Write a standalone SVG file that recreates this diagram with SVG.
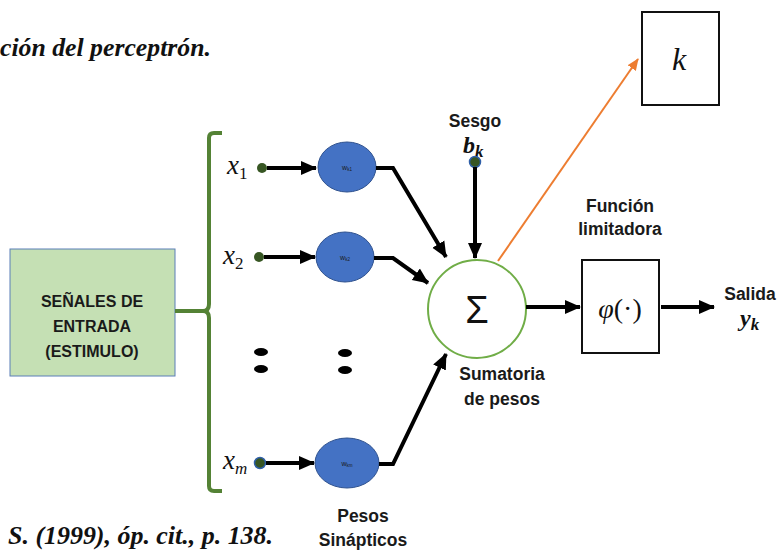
<svg xmlns="http://www.w3.org/2000/svg" width="778" height="550" viewBox="0 0 778 550">
<defs>
<marker id="ah" markerUnits="userSpaceOnUse" markerWidth="16" markerHeight="16" viewBox="0 0 16 16" refX="15" refY="8" orient="auto">
<path d="M0,1 L16,8 L0,15 Z" fill="#000"/>
</marker>
<marker id="aho" markerUnits="userSpaceOnUse" markerWidth="12" markerHeight="12" viewBox="0 0 12 12" refX="11" refY="6" orient="auto">
<path d="M0,1 L12,6 L0,11 Z" fill="#ed7d31"/>
</marker>
</defs>
<style>
.lbl{font-family:"Liberation Sans",Arial,sans-serif;font-weight:bold;font-size:17.5px;fill:#1a1a1a;text-anchor:middle}
.big{font-size:16px}
.cite{font-family:"Liberation Serif","Times New Roman",serif;font-weight:bold;font-style:italic;font-size:25px;fill:#111}
.math{font-family:"Liberation Serif","Times New Roman",serif;font-style:italic;font-size:27px;fill:#111}
.sub{font-size:17px}
.bm{font-weight:bold;font-size:24px}
.w{fill:#4472c4;stroke:#2f528f;stroke-width:1}
.wt{font-family:"Liberation Sans",Arial,sans-serif;font-size:7px;fill:#1a1a1a;text-anchor:middle}
.dot{fill:#375623}
.dotb{fill:#375623;stroke:#2f5fa8;stroke-width:1.5}
.ar{fill:none;stroke:#000;stroke-width:4;marker-end:url(#ah)}
.box{fill:#fff;stroke:#111;stroke-width:2}
</style>
<rect width="778" height="550" fill="#fff"/>
<text class="cite" x="0" y="56" textLength="211" lengthAdjust="spacingAndGlyphs">ción del perceptrón.</text>
<text class="cite" x="8" y="544" textLength="265" lengthAdjust="spacingAndGlyphs">S. (1999), óp. cit., p. 138.</text>

<g id="entrada">
<rect x="10" y="249" width="165" height="127" fill="#c5e0b4" stroke="#5b7fb8" stroke-width="1"/>
<text class="lbl big" x="92" y="307">SEÑALES DE</text>
<text class="lbl big" x="92" y="332">ENTRADA</text>
<text class="lbl big" x="92" y="357">(ESTIMULO)</text>
</g>

<g id="bracket">
<path d="M175,311 L205,311 M222,133 L214,133 Q209,133 209,138 L209,304 Q209,311 203,311 Q209,311 209,318 L209,486 Q209,491 214,491 L222,491" fill="none" stroke="#548235" stroke-width="4"/>
</g>

<g id="x1">
<text class="math" x="227" y="174">x<tspan class="sub" dy="5" style="font-style:normal">1</tspan></text>
<circle class="dot" cx="262" cy="168" r="5"/>
</g>
<g id="x2">
<text class="math" x="223" y="264">x<tspan class="sub" dy="5" style="font-style:normal">2</tspan></text>
<circle class="dot" cx="259" cy="257" r="5"/>
</g>
<g id="xm">
<text class="math" x="223" y="469">x<tspan class="sub" dy="5">m</tspan></text>
<circle class="dotb" cx="260" cy="463" r="5.5"/>
</g>
<g id="dots">
<ellipse cx="261" cy="352" rx="7" ry="4" fill="#000"/>
<ellipse cx="261" cy="369" rx="7" ry="4" fill="#000"/>
<ellipse cx="345" cy="353" rx="7" ry="4" fill="#000"/>
<ellipse cx="345" cy="370" rx="7" ry="4" fill="#000"/>
</g>

<g id="wk1">
<ellipse class="w" cx="347" cy="167" rx="29" ry="25"/>
<text class="wt" x="347" y="170">w<tspan style="font-size:4.5px" dy="1">k1</tspan></text>
</g>
<g id="wk2">
<ellipse class="w" cx="345" cy="257" rx="29" ry="25"/>
<text class="wt" x="345" y="260">w<tspan style="font-size:4.5px" dy="1">k2</tspan></text>
</g>
<g id="wkm">
<ellipse class="w" cx="347" cy="463" rx="32" ry="25"/>
<text class="wt" x="347" y="466">w<tspan style="font-size:4.5px" dy="1">km</tspan></text>
</g>

<g id="sesgo">
<text class="lbl" x="475" y="127">Sesgo</text>
<text class="math bm" x="463" y="153">b<tspan class="sub" dy="4">k</tspan></text>
<circle class="dotb" cx="475" cy="162" r="5.5"/>
</g>

<g id="suma">
<circle cx="477" cy="309" r="49" fill="#fff" stroke="#70ad47" stroke-width="2"/>
<text x="477" y="323" style="font-family:'Liberation Sans',Arial,sans-serif;font-size:38px" text-anchor="middle" fill="#111">Σ</text>
<text class="lbl" x="502" y="380">Sumatoria</text>
<text class="lbl" x="502" y="405">de pesos</text>
</g>

<g id="k">
<rect class="box" x="642" y="12" width="77" height="93"/>
<text class="math" x="679" y="70" style="font-size:32px" text-anchor="middle">k</text>
</g>

<g id="phi">
<rect class="box" x="582" y="260" width="77" height="93"/>
<text x="620" y="318" style="font-family:'Liberation Serif','Times New Roman',serif;font-size:28px" text-anchor="middle" fill="#111"><tspan style="font-style:italic">φ</tspan>(·)</text>
<text class="lbl" x="620" y="212">Función</text>
<text class="lbl" x="620" y="235">limitadora</text>
</g>

<g id="salida">
<text class="lbl" x="750" y="300">Salida</text>
<text class="math bm" x="740" y="326">y<tspan class="sub" dy="4">k</tspan></text>
</g>

<g id="pesos">
<text class="lbl" x="363" y="522">Pesos</text>
<text class="lbl" x="363" y="546">Sinápticos</text>
</g>

<g id="connectors">
<line class="ar" x1="267" y1="168" x2="316" y2="168"/>
<line class="ar" x1="264" y1="257" x2="315" y2="257"/>
<line class="ar" x1="266" y1="463" x2="314" y2="463"/>
<polyline class="ar" points="376,168 393,168 446,257"/>
<polyline class="ar" points="374,258 393,258 428,283"/>
<polyline class="ar" points="379,464 393,464 446,354"/>
<line class="ar" x1="475" y1="167" x2="475" y2="258"/>
<line class="ar" x1="526" y1="307" x2="580" y2="307"/>
<line class="ar" x1="661" y1="307" x2="714" y2="307"/>
<line x1="498" y1="261" x2="638" y2="59" stroke="#ed7d31" stroke-width="2" marker-end="url(#aho)"/>
</g>
</svg>
